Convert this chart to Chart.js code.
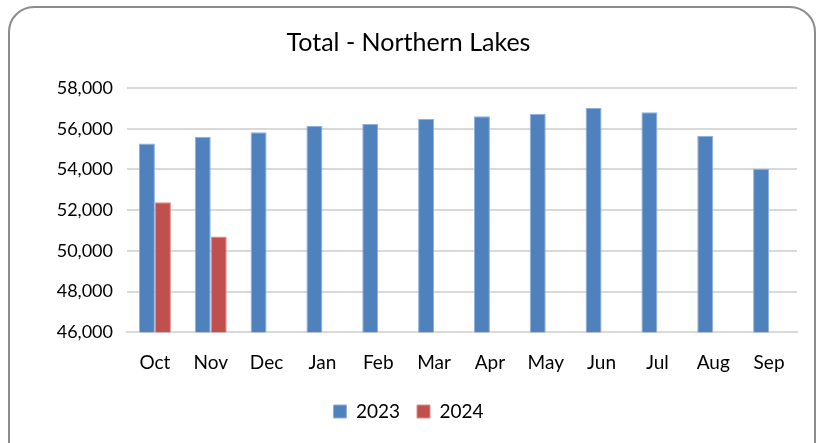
<!DOCTYPE html>
<html>
<head>
<meta charset="utf-8">
<script src="https://cdn.jsdelivr.net/npm/chart.js@4.4.1/dist/chart.umd.min.js"></script>
<style>
  html, body { margin: 0; padding: 0; background: #fff; }
  #wrap { position: relative; width: 822px; height: 443px; overflow: hidden; }
  #frame { position: absolute; left: 8px; top: 6px; width: 808px; height: 470px;
           border: 2px solid #8c8c8c; border-radius: 26px; box-sizing: border-box; }
  #myChart { position: absolute; left: 0; top: 0; }
</style>
</head>
<body>
<div id="wrap">
  <div id="frame"></div>
  <canvas id="myChart" width="822" height="443"></canvas>
</div>
<script>
        const months = ['Oct', 'Nov', 'Dec', 'Jan', 'Feb', 'Mar', 'Apr', 'May', 'Jun', 'Jul', 'Aug', 'Sep'];
        const values2023 = [55270, 55600, 55830, 56130, 56230, 56480, 56610, 56740, 57020, 56810, 55650, 54030];
        const values2024 = [52390, 50700, null, null, null, null, null, null, null, null, null, null];
        const yTicks = [46000, 48000, 50000, 52000, 54000, 56000, 58000];

        const fontName = 'Lato, "Open Sans", sans-serif';
        const ctx = document.getElementById('myChart').getContext('2d');
        const myChart = new Chart(ctx, {
            type: 'bar',
            data: {
                labels: months,
                datasets: [{
                    label: '2023',
                    data: values2023,
                    backgroundColor: '#4f81bd',
                    borderColor: '#8eb0dc',
                    borderWidth: 1
                },
                {
                    label: '2024',
                    data: values2024,
                    backgroundColor: '#c0504d',
                    borderColor: '#d98d8b',
                    borderWidth: 1
                }]
            },
            options: {
                responsive: false,
                animation: false,
                layout: { padding: { left: 20, right: 25, top: 14, bottom: 12 } },
                datasets: {
                    bar: { categoryPercentage: 0.573, barPercentage: 1 }
                },
                plugins: {
                    title: {
                        display: true,
                        text: 'Total - Northern Lakes',
                        color: '#000',
                        font: { family: fontName, size: 25, weight: 'normal' },
                        padding: { top: 14, bottom: 30 }
                    },
                    legend: {
                        position: 'bottom',
                        labels: {
                            color: '#000',
                            font: { family: fontName, size: 19 },
                            boxWidth: 13,
                            boxHeight: 13,
                            padding: 17
                        }
                    },
                    tooltip: { enabled: false }
                },
                scales: {
                    x: {
                        grid: { display: false },
                        border: { color: '#d9d9d9', width: 2 },
                        ticks: { color: '#000', font: { family: fontName, size: 19 }, padding: 11 }
                    },
                    y: {
                        min: 46000,
                        max: 58000,
                        afterBuildTicks: function(scale) {
                            scale.ticks = yTicks.map(v => ({ value: v }));
                        },
                        afterFit: function(scale) { scale.width = 107; },
                        grid: { color: '#d9d9d9', lineWidth: 2, drawTicks: false },
                        border: { display: false },
                        ticks: {
                            color: '#000',
                            font: { family: fontName, size: 18 },
                            padding: 14,
                            callback: v => v.toLocaleString('en-US')
                        }
                    }
                }
            }
        });
</script>
</body>
</html>
